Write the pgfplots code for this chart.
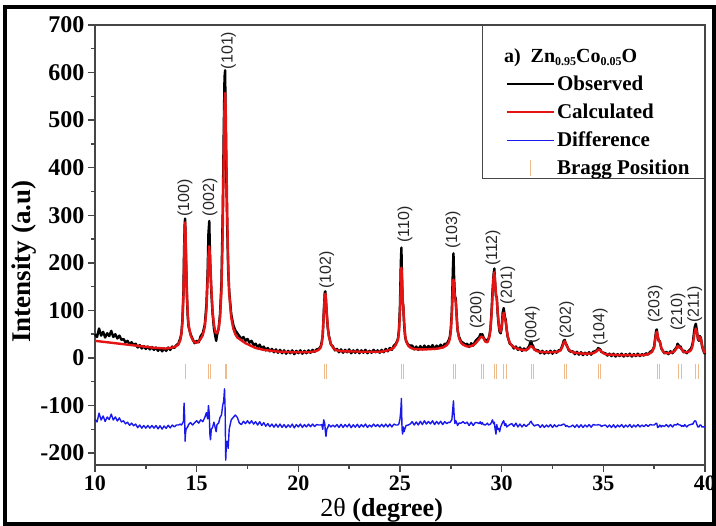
\documentclass[border=0pt]{standalone}
\usepackage{fontspec}
\setmainfont{Liberation Serif}
\newfontfamily\arialfont{Liberation Sans}
\usepackage{pgfplots}
\usepackage{pgfplotstable}
\pgfplotsset{compat=1.18}
\definecolor{calcred}{RGB}{228,20,20}
\definecolor{diffblue}{RGB}{25,25,235}
\definecolor{braggtan}{RGB}{238,188,140}
\definecolor{axisgray}{RGB}{70,70,70}

\pgfplotstableread{
x obs calc diff
10.0 50 36 -129
10.1 44 35.5 -134.5
10.2 62 35 -116
10.3 47 34.5 -130.5
10.4 55 34 -122
10.5 43 33.5 -133.5
10.6 52 33 -124
10.7 46 32.5 -129.5
10.8 57 32 -118
10.9 44 31.5 -130.5
11.0 50 31 -124
11.1 41 30.5 -132.5
11.2 47 30 -126
11.3 38 29.5 -134.5
11.4 40 29 -132
11.5 33 28.5 -138.5
11.6 36 28 -135
11.7 29 27.5 -141.5
11.8 33 27 -137
11.9 27 26.5 -142.5
12.0 30 26 -139
12.1 22 25.5 -146.5
12.2 27 25 -141
12.3 20 24.5 -147.5
12.4 25 24 -142
12.5 19 23.5 -147.5
12.6 24 23 -142
12.7 18 22.5 -147.5
12.8 23 22 -142
12.9 17 21.5 -147.5
13.0 22 21 -142
13.1 15 21 -149
13.2 21 20.5 -142.5
13.3 14 20.5 -149.5
13.4 20 20 -143
13.5 15 20 -148
13.6 22 20.5 -141.5
13.7 17 21 -147
13.8 24 22 -141
13.9 21 23 -145
14.0 27 25 -141
14.1 30 28 -141
14.2 42 38 -139
14.25 52 50 -141
14.3 80 75 -138
14.35 140 130 -133
14.38 225 200 -95
14.41 280 265 -125
14.43 293 285 -175
14.45 262 270 -160
14.48 200 215 -150
14.52 130 140 -147
14.56 88 95 -145
14.6 66 70 -140
14.7 50 48 -136
14.8 40 38 -141
14.9 31 33 -136
15.0 36 32 -132
15.1 33 35 -137
15.2 46 40 -130
15.3 52 48 -134
15.4 70 65 -125
15.48 112 100 -115
15.54 180 165 -128
15.58 262 215 -100
15.62 288 235 -118
15.65 230 215 -160
15.68 180 190 -172
15.72 140 150 -150
15.78 95 100 -146
15.85 62 70 -135
15.92 45 55 -148
15.96 36 52 -155
16.0 48 52 -140
16.08 62 60 -137
16.15 92 85 -125
16.22 160 140 -120
16.28 300 260 -100
16.33 470 420 -90
16.37 590 530 -65
16.40 605 557 -110
16.43 480 520 -215
16.46 380 430 -180
16.5 280 310 -175
16.55 185 200 -190
16.6 140 135 -150
16.7 92 85 -130
16.8 70 62 -125
16.9 58 50 -120
17.0 52 43 -125
17.1 46 40 -137
17.2 40 37 -140
17.3 44 34 -133
17.4 36 31 -138
17.5 40 29 -132
17.6 32 27 -138
17.7 36 25 -132
17.8 27 23 -139
17.9 30 21 -134
18.0 22 20 -141
18.1 28 19 -134
18.2 19 18 -142
18.3 24 17 -136
18.4 16 16.5 -143.5
18.5 21 16 -138
18.6 14 15.5 -144.5
18.7 19 15 -139
18.8 12 14.5 -145.5
18.9 18 14 -139
19.0 11 13.5 -145.5
19.1 17 13 -139
19.2 10 13 -146
19.3 16 13 -140
19.4 9 12.5 -146.5
19.5 15 12.5 -140.5
19.6 10 12.5 -145.5
19.7 16 12 -139
19.8 8 12 -147
19.9 15 12 -140
20.0 10 12 -145
20.1 16 12 -139
20.2 9 12 -146
20.3 15 12 -140
20.4 10 12 -145
20.5 16 12 -139
20.6 11 12.5 -144.5
20.7 17 13 -139
20.8 13 14 -144
20.9 18 15 -140
21.0 19 17 -141
21.1 24 22 -141
21.15 33 30 -140
21.2 48 50 -150
21.25 95 90 -130
21.3 138 130 -138
21.33 140 135 -155
21.36 118 125 -165
21.4 90 95 -150
21.45 62 65 -146
21.5 48 45 -140
21.6 28 30 -145
21.7 24 22 -141
21.8 16 18 -145
21.9 19 16 -140
22.0 12 15 -146
22.1 18 14.5 -139.5
22.2 11 14 -146
22.3 17 14 -140
22.4 12 14 -145
22.5 18 14 -139
22.6 10 13.5 -146.5
22.7 16 13.5 -140.5
22.8 11 13.5 -145.5
22.9 17 13.5 -139.5
23.0 10 13 -146
23.1 16 13 -140
23.2 11 13 -145
23.3 17 13 -139
23.4 10 13 -146
23.5 15 13 -141
23.6 11 13 -145
23.7 17 13 -139
23.8 12 13 -144
23.9 16 13 -140
24.0 11 13 -145
24.1 17 13.5 -139.5
24.2 12 14 -145
24.3 19 15 -139
24.4 14 16 -145
24.5 21 17 -139
24.6 17 19 -145
24.7 26 22 -139
24.8 30 28 -141
24.9 40 38 -141
24.95 60 55 -138
25.0 110 95 -128
25.04 200 160 -110
25.07 232 190 -85
25.1 165 170 -150
25.13 118 125 -160
25.16 110 108 -145
25.2 72 80 -155
25.25 45 50 -148
25.3 36 35 -142
25.4 28 26 -141
25.5 26 22 -139
25.6 26 20 -134
25.7 18 19 -141
25.8 24 18.5 -134.5
25.9 17 18 -141
26.0 25 18 -133
26.1 18 18 -140
26.2 26 18 -132
26.3 19 18 -139
26.4 25 18.5 -133.5
26.5 20 18.5 -138.5
26.6 27 19 -132
26.7 19 19 -140
26.8 26 19.5 -133.5
26.9 21 20 -139
27.0 28 21 -133
27.1 22 22 -140
27.2 30 24 -134
27.3 29 27 -138
27.4 38 33 -135
27.45 44 40 -136
27.5 62 55 -133
27.55 100 90 -130
27.6 185 150 -105
27.63 220 165 -90
27.66 170 150 -118
27.7 130 128 -138
27.74 125 118 -132
27.78 95 90 -135
27.83 58 60 -142
27.9 45 42 -137
28.0 35 32 -137
28.1 32 28 -134
28.2 28 26 -138
28.3 30 24 -135
28.4 23 24 -142
28.5 31 25 -135
28.6 26 27 -142
28.7 35 30 -136
28.8 40 35 -136
28.9 44 40 -138
28.95 50 43 -134
29.0 48 45 -139
29.05 50 44 -136
29.1 44 42 -140
29.15 40 38 -140
29.2 36 34 -141
29.3 38 33 -137
29.35 40 38 -141
29.4 48 45 -140
29.45 62 60 -139
29.5 95 90 -135
29.55 140 130 -130
29.6 175 170 -138
29.64 188 180 -135
29.68 155 160 -150
29.72 130 135 -160
29.76 128 125 -140
29.8 95 100 -150
29.85 70 75 -148
29.9 55 60 -155
29.95 52 55 -145
30.0 62 65 -140
30.05 95 85 -135
30.1 105 95 -132
30.15 88 85 -142
30.2 80 75 -138
30.25 58 60 -145
30.3 44 45 -143
30.4 30 32 -140
30.5 27 26 -138
30.6 20 23 -144
30.7 24 21 -137
30.8 17 19 -145
30.9 22 18 -139
31.0 15 17 -145
31.1 20 16.5 -139.5
31.2 16 17 -144
31.3 22 19 -140
31.35 24 21 -139
31.4 32 24 -135
31.45 35 25 -133
31.5 28 23 -138
31.55 25 22 -140
31.6 18 18 -143
31.7 17 15 -141
31.8 16 13.5 -140.5
31.9 10 13 -146
32.0 15 12.5 -140.5
32.1 9 12 -146
32.2 14 12 -141
32.3 10 12 -145
32.4 15 12 -140
32.5 9 12 -146
32.6 15 12.5 -140.5
32.7 11 13 -145
32.8 16 14 -141
32.9 17 16 -142
33.0 28 25 -140
33.05 36 32 -139
33.1 38 35 -140
33.15 30 31 -144
33.2 27 26 -142
33.3 16 18 -145
33.4 13 14 -144
33.5 14 12 -141
33.6 8 11 -146
33.7 13 10.5 -140.5
33.8 7 10 -146
33.9 12 9.5 -140.5
34.0 6 9 -146
34.1 11 9 -141
34.2 7 9 -145
34.3 12 9 -140
34.4 7 9.5 -145.5
34.5 13 10 -140
34.6 14 12 -141
34.7 17 15 -141
34.75 21 18 -140
34.8 19 17 -141
34.85 18 16 -141
34.9 13 14 -144
35.0 11 10 -142
35.1 10 8 -141
35.2 5 7.5 -145.5
35.3 9 7 -141
35.4 4 7 -146
35.5 9 6.5 -140.5
35.6 3 6.5 -146.5
35.7 8 6 -141
35.8 4 6 -145
35.9 9 6 -140
36.0 3 6 -146
36.1 8 6 -141
36.2 4 6 -145
36.3 9 6 -140
36.4 3 6 -146
36.5 8 6 -141
36.6 4 6 -145
36.7 9 6 -140
36.8 4 6 -145
36.9 8 6 -141
37.0 5 6.5 -144.5
37.1 10 7 -140
37.2 7 8 -144
37.3 13 10 -140
37.4 15 13 -141
37.5 24 22 -141
37.55 42 38 -139
37.6 58 52 -137
37.63 60 55 -138
37.67 45 48 -146
37.72 36 38 -145
37.78 35 33 -141
37.85 20 22 -145
37.9 17 16 -142
38.0 10 11 -144
38.1 13 10 -140
38.2 8 10 -145
38.3 14 11 -140
38.4 10 12 -145
38.5 17 14 -140
38.6 22 20 -141
38.65 30 25 -138
38.7 27 24 -140
38.75 23 21 -141
38.8 24 22 -141
38.85 18 19 -144
38.9 16 15 -142
38.95 12 13 -144
39.0 15 12 -140
39.1 10 12 -145
39.2 15 13 -141
39.3 19 16 -140
39.35 24 20 -139
39.4 32 28 -139
39.45 50 42 -135
39.5 66 55 -132
39.55 72 62 -133
39.6 58 55 -140
39.65 40 42 -145
39.7 36 38 -145
39.75 46 44 -141
39.8 42 40 -141
39.85 26 28 -145
39.9 18 20 -145
39.95 12 14 -145
40.0 8 10 -145
}\xrddata

% Bragg reflection positions
\pgfplotstableread{
x y
14.43 -28
14.47 -28
15.58 -28
15.66 -28
16.40 -28
16.45 -28
21.30 -28
21.37 -28
25.08 -28
25.15 -28
27.63 -28
27.72 -28
29.00 -28
29.13 -28
29.66 -28
29.76 -28
30.10 -28
30.22 -28
31.45 -28
31.56 -28
33.10 -28
33.20 -28
34.78 -28
34.88 -28
37.65 -28
37.78 -28
38.70 -28
38.82 -28
39.55 -28
39.68 -28
}\braggdata

\newcommand{\sub}[1]{\raisebox{-3.5pt}{\fontsize{12}{12}\selectfont #1}}

\begin{document}
\begin{tikzpicture}
\begin{axis}[
  scale only axis,
  width=610pt, height=440pt,
  xmin=10, xmax=40, ymin=-225, ymax=700,
  xtick={10,15,...,40},
  xticklabels={10,15,20,25,30,35,40},
  ytick={-200,-100,...,700},
  yticklabels={-200,-100,0,100,200,300,400,500,600,700},
  minor x tick num=1, minor y tick num=1,
  tick pos=left, tick align=outside,
  major tick length=7pt, minor tick length=4pt,
  axis line style={axisgray, line width=1.4pt},
  tick style={axisgray, line width=1.4pt},
  xticklabel style={font=\fontsize{22}{22}\selectfont\bfseries},
  yticklabel style={font=\fontsize{24}{24}\selectfont\bfseries},
  xlabel={{\mdseries 2θ} (degree)},
  xlabel style={at={(axis description cs:0.47,-0.118)}, anchor=base,
    font=\fontsize{26}{26}\selectfont\bfseries},
  ylabel={Intensity (a.u)},
  ylabel style={at={(axis description cs:-0.116,0.462)}, anchor=center,
    font=\fontsize{27}{27}\selectfont\bfseries},
  clip=false,
  legend image code/.code={\path (0pt,0pt) (57pt,0pt);
    \draw[mark repeat=2,mark phase=2,#1]
    (10pt,0pt) -- (33.5pt,0pt) -- (57pt,0pt);},
  legend cell align=left,
  legend style={at={(1,1)}, anchor=north east, draw=axisgray, line width=1pt,
    fill=white, font=\fontsize{21}{21}\selectfont\bfseries,
    inner xsep=13pt, inner ysep=0pt, row sep=8pt,
    nodes={inner ysep=2pt}},
]
\addlegendimage{empty legend}
\addlegendentry{\hspace*{-53pt}\rule{0pt}{35pt}\fontsize{20}{20}\selectfont a)\hspace{10pt}Zn\sub{0.95}Co\sub{0.05}O}

\addplot[black, line width=2.4pt, line join=round] table[x=x, y=obs] {\xrddata};
\addlegendentry{Observed}

\addplot[calcred, line width=2.4pt, line join=round] table[x=x, y=calc] {\xrddata};
\addlegendentry{Calculated}

\addplot[diffblue, line width=1.4pt, line join=round] table[x=x, y=diff] {\xrddata};
\addlegendentry{Difference}

\addplot[braggtan, only marks, mark=|, mark size=7.5pt,
  mark options={line width=1pt},
  legend image code/.code={\path (0pt,0pt) (57pt,0pt);
    \draw[braggtan, line width=1pt] (33.5pt,-8pt) -- (33.5pt,8pt);}]
  table[x=x, y=y] {\braggdata};
\addlegendentry{Bragg Position}

% Miller indices above the peaks
\begin{scope}[every node/.style={rotate=90, anchor=west, inner sep=0pt,
    font=\arialfont\fontsize{16}{16}\selectfont, text=black!85}]
\node at (axis cs:14.43,296) {(100)};
\node at (axis cs:15.65,298) {(002)};
\node at (axis cs:16.57,607) {(101)};
\node at (axis cs:21.40,145) {(102)};
\node at (axis cs:25.25,242) {(110)};
\node at (axis cs:27.60,229) {(103)};
\node at (axis cs:28.80,61) {(200)};
\node at (axis cs:29.57,193) {(112)};
\node at (axis cs:30.30,113) {(201)};
\node at (axis cs:31.50,29) {(004)};
\node at (axis cs:33.20,40) {(202)};
\node at (axis cs:34.85,25) {(104)};
\node at (axis cs:37.55,74) {(203)};
\node at (axis cs:38.67,57) {(210)};
\node at (axis cs:39.50,74) {(211)};
\end{scope}
\end{axis}
\pgfresetboundingbox
\useasboundingbox (-95pt,-61pt) rectangle (621pt,465pt);
\draw[line width=4pt] (-90pt,-59pt) rectangle (619pt,457.5pt);
\end{tikzpicture}
\end{document}
